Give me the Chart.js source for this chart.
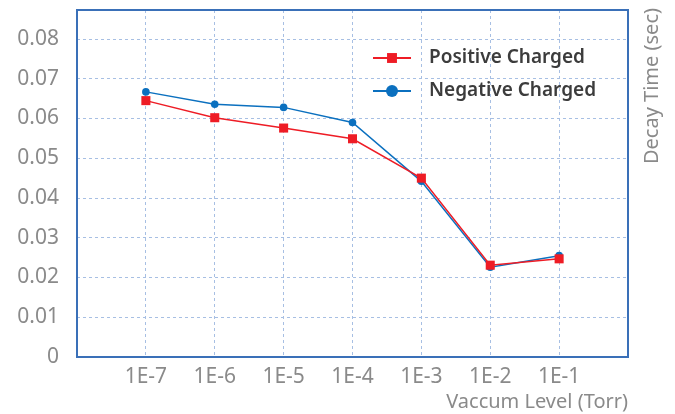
<!DOCTYPE html>
<html>
<head>
<meta charset="utf-8">
<script src="https://cdn.jsdelivr.net/npm/chart.js@4"></script>
<style>
  html, body { margin: 0; padding: 0; background: #fff; }
  #wrap { width: 675px; height: 414px; }
</style>
</head>
<body>
<div id="wrap"><canvas id="decayChart" width="675" height="414"></canvas></div>
<script>
// chart data
const categories = ['1E-7', '1E-6', '1E-5', '1E-4', '1E-3', '1E-2', '1E-1'];
const positiveCharged = [0.0645, 0.0602, 0.0576, 0.0549, 0.0450, 0.0231, 0.0247];
const negativeCharged = [0.0667, 0.0636, 0.0628, 0.0590, 0.0442, 0.0226, 0.0255];
const yTicks = [0, 0.01, 0.02, 0.03, 0.04, 0.05, 0.06, 0.07, 0.08];

const tickFont = { family: '"Noto Sans", sans-serif', size: 21 };
const titleFont = { family: '"Noto Sans", sans-serif', size: 20 };
const gray = '#8a8a8a';
const frameColor = '#3a70b8';

function toPoints(values) {
  return values.map((v, i) => ({ x: i, y: v }));
}

// frame, legend and right-side title drawn on the canvas
const extras = {
  id: 'extras',
  afterDatasetsDraw(chart) {
    const { ctx, chartArea: a } = chart;
    ctx.save();
    ctx.strokeStyle = frameColor;
    ctx.lineWidth = 2;
    ctx.strokeRect(a.left, a.top, a.right - a.left, a.bottom - a.top);

    // legend
    const rows = [58, 91];
    chart.data.datasets.forEach((ds, i) => {
      const y = rows[i];
      ctx.strokeStyle = ds.borderColor;
      ctx.lineWidth = 2;
      ctx.beginPath();
      ctx.moveTo(373, y);
      ctx.lineTo(411, y);
      ctx.stroke();
      ctx.fillStyle = ds.backgroundColor;
      Chart.helpers.drawPoint(ctx, {
        pointStyle: ds.pointStyle,
        radius: ds.pointStyle === 'rect' ? 7 : 6,
        borderWidth: 0
      }, 392, y);
      ctx.fillStyle = '#3c3c3c';
      ctx.font = '600 19px "Noto Sans", sans-serif';
      ctx.textBaseline = 'middle';
      ctx.textAlign = 'left';
      ctx.fillText(ds.label, 429, y);
    });

    // y axis title on right side, reading bottom to top
    ctx.translate(652, 8);
    ctx.rotate(-Math.PI / 2);
    ctx.fillStyle = gray;
    ctx.font = '20px "Noto Sans", sans-serif';
    ctx.textAlign = 'right';
    ctx.textBaseline = 'middle';
    ctx.fillText('Decay Time (sec)', 0, 0);
    ctx.restore();
  }
};

const chart = new Chart(document.getElementById('decayChart'), {
  type: 'line',
  data: {
    datasets: [
      {
        label: 'Positive Charged',
        data: toPoints(positiveCharged),
        borderColor: '#ee1c25',
        backgroundColor: '#ee1c25',
        borderWidth: 1.5,
        pointStyle: 'rect',
        pointRadius: 6.4,
        pointBorderWidth: 0,
        tension: 0
      },
      {
        label: 'Negative Charged',
        data: toPoints(negativeCharged),
        borderColor: '#0b70bf',
        backgroundColor: '#0b70bf',
        borderWidth: 1.5,
        pointStyle: 'circle',
        pointRadius: 3.8,
        pointBorderWidth: 0,
        tension: 0
      }
    ]
  },
  options: {
    responsive: false,
    animation: false,
    layout: { autoPadding: false, padding: { top: 10, right: 47, bottom: 0, left: 0 } },
    plugins: {
      legend: { display: false },
      tooltip: { enabled: false }
    },
    scales: {
      x: {
        type: 'linear',
        min: -1,
        max: categories.length,
        afterBuildTicks: (axis) => {
          axis.ticks = categories.map((c, i) => ({ value: i }));
        },
        afterFit: (axis) => {
          axis.height = 57;
          axis.paddingLeft = 0;
          axis.paddingRight = 0;
        },
        ticks: {
          color: gray,
          font: tickFont,
          padding: 7,
          maxRotation: 0,
          autoSkip: false,
          callback: (v) => categories[v] || ''
        },
        grid: {
          color: '#a7bfe3',
          lineWidth: 1,
          drawTicks: false
        },
        border: { display: false, dash: [3, 3] },
        title: {
          display: true,
          text: 'Vaccum Level (Torr)',
          align: 'end',
          color: gray,
          font: titleFont,
          padding: { top: 0, bottom: 0 }
        }
      },
      y: {
        min: 0,
        max: 0.0873,
        afterBuildTicks: (axis) => {
          axis.ticks = yTicks.map((v) => ({ value: v }));
        },
        afterFit: (axis) => {
          axis.width = 77;
          axis.paddingTop = 0;
          axis.paddingBottom = 0;
        },
        ticks: {
          color: gray,
          font: tickFont,
          padding: 18,
          callback: (v) => (v === 0 ? '0' : v.toFixed(2))
        },
        grid: {
          color: '#a7bfe3',
          lineWidth: 1,
          drawTicks: false
        },
        border: { display: false, dash: [3, 3] }
      }
    }
  },
  plugins: [extras]
});
</script>
</body>
</html>
